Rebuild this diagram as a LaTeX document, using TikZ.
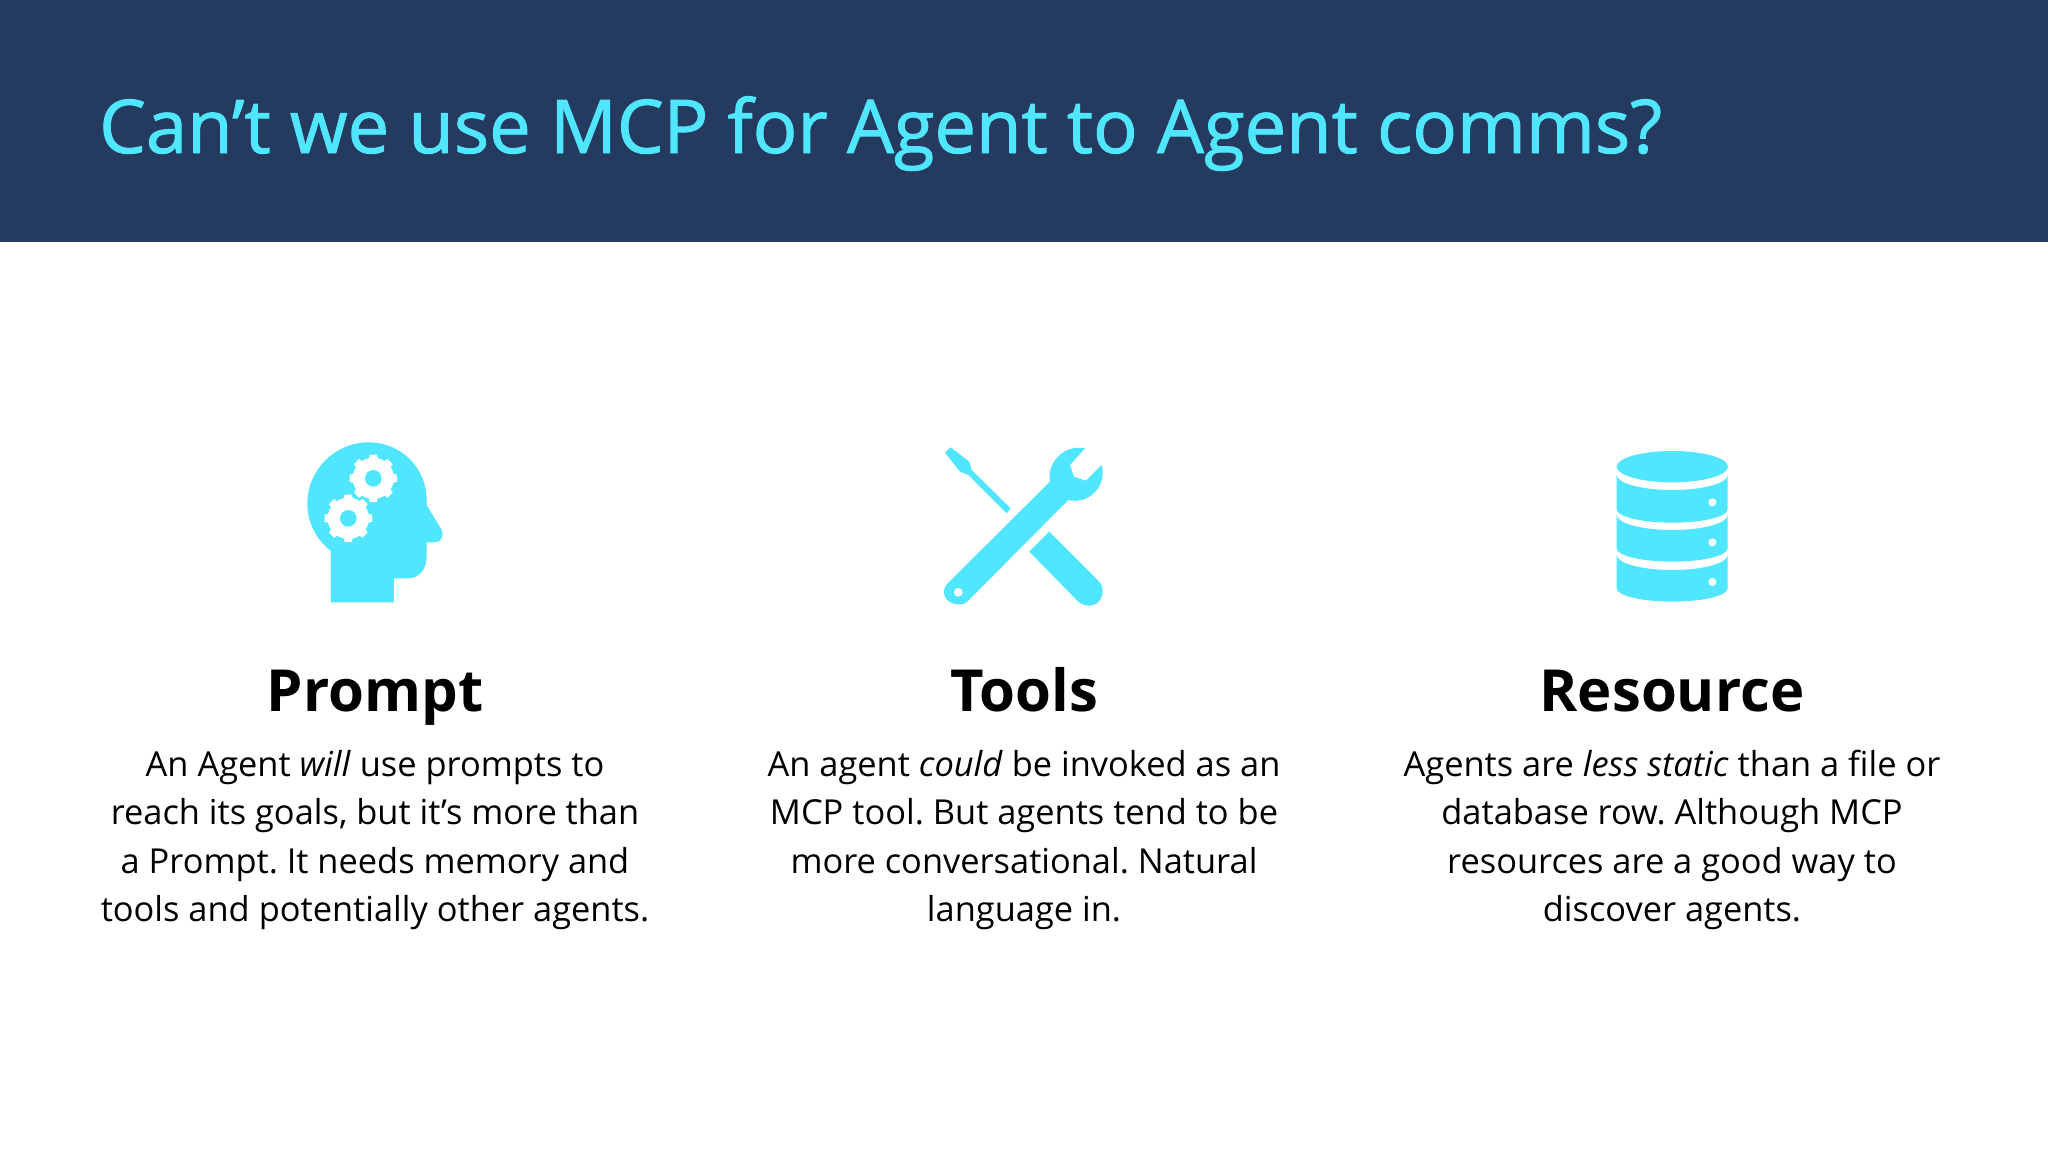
\documentclass[tikz,border=0pt]{standalone}
\usepackage{fontspec}
\setmainfont{Open Sans}
\newfontfamily\titlefont[FakeBold=1.3]{Open Sans}
\definecolor{navy}{HTML}{243A5E}
\definecolor{cyanms}{HTML}{50E6FF}
\tikzset{
  titletext/.style={anchor=base west,inner sep=0pt,text=cyanms,font=\titlefont\fontsize{74.1}{86}\selectfont},
  headtext/.style={anchor=base,inner sep=0pt,text=black,font=\fontsize{58}{66}\selectfont\bfseries},
  bodytext/.style={inner sep=0pt,text=black,align=center,font=\frenchspacing\fontsize{34.4}{48.3}\selectfont},
  iconfill/.style={fill=cyanms,draw=none},
  iconhole/.style={fill=white,draw=none}
}
\newcommand{\gearicon}[2]{%
  \fill[iconhole,shift={(#1,#2)}]
    \foreach \a in {0,45,...,315}{
      (\a-13:58) -- (\a-9:72) -- (\a+9:72) -- (\a+13:58) arc[start angle=\a+13,end angle=\a+32,radius=58] -- (\a+32:58)
    } -- cycle;
  \fill[iconhole,shift={(#1,#2)}] (0,0) circle[radius=62];
  \fill[iconfill,shift={(#1,#2)}] (0,0) circle[radius=25];
}
\newcommand{\dbseg}[2]{%
  \fill[iconfill] (110,#1) .. controls (110,#1+25) and (185,#1+45) .. (277,#1+45)
    .. controls (369,#1+45) and (443,#1+25) .. (443,#1) -- (443,#2)
    .. controls (443,#2+22) and (369,#2+40) .. (277,#2+40)
    .. controls (185,#2+40) and (110,#2+22) .. (110,#2) -- cycle;
}
\begin{document}
\begin{tikzpicture}[x=1pt,y=-1pt]
\useasboundingbox (0,0) rectangle (2048,1152);
\fill[white] (0,0) rectangle (2048,1152);
\fill[navy] (0,0) rectangle (2048,241.5);
\node[titletext] (title) at (99,153) {Can’t we use MCP for Agent to Agent comms?};

% Brain icon
\begin{scope}[shift={(280,420)},scale=0.3333]
  \fill[iconfill] (153,547) -- (153,393)
    .. controls (110,360) and (82,310) .. (82,250)
    .. controls (82,150) and (165,67) .. (265,67)
    .. controls (365,67) and (440,145) .. (440,240)
    -- (440,255) -- (484,328)
    .. controls (494,345) and (485,367) .. (465,367)
    -- (440,367) -- (440,410)
    .. controls (440,450) and (415,475) .. (385,475)
    -- (342,475) -- (342,547) -- cycle;
  \gearicon{280}{175}
  \gearicon{205}{295}
\end{scope}

% Tools icon
\begin{scope}[shift={(920,420)},scale=0.3333]
  \fill[iconfill] (92,82) -- (148,125) -- (155,150) -- (272,265) -- (260,280)
    -- (145,165) -- (120,155) -- (75,98) -- cycle;
  \fill[iconfill] (388,335) -- (538,485)
    .. controls (558,507) and (548,557) .. (508,557)
    .. controls (495,557) and (485,553) .. (475,545) -- (328,395) -- cycle;
  \fill[iconfill] (390,185)
    .. controls (380,130) and (430,72) .. (495,85)
    -- (450,135) -- (462,170) -- (498,182) -- (545,135)
    .. controls (562,200) and (505,255) .. (445,240)
    -- (140,547)
    .. controls (120,562) and (72,550) .. (72,518)
    .. controls (72,505) and (76,497) .. (83,490) -- cycle;
  \fill[iconhole] (115,517) circle[radius=13];
\end{scope}

% Database icon
\begin{scope}[shift={(1580,420)},scale=0.3333]
  \fill[iconfill] (277,140) ellipse[x radius=167,y radius=47];
  \dbseg{165}{268}
  \dbseg{285}{385}
  \dbseg{405}{505}
  \fill[iconhole] (397,247) circle[radius=12];
  \fill[iconhole] (397,367) circle[radius=12];
  \fill[iconhole] (397,486) circle[radius=12];
\end{scope}

\node[headtext] (h1) at (375,711) {Prompt};
\node[headtext] (h2) at (1024,711) {Tools};
\node[headtext] (h3) at (1672,711) {Resource};

\node[bodytext] (b1) at (375,840) {An Agent \textit{will} use prompts to\\reach its goals, but it’s more than\\a Prompt. It needs memory and\\tools and potentially other agents.};
\node[bodytext] (b2) at (1024,840) {An agent \textit{could} be invoked as an\\MCP tool. But agents tend to be\\more conversational. Natural\\language in.};
\node[bodytext] (b3) at (1672,840) {Agents are \textit{less static} than a file or\\database row. Although MCP\\resources are a good way to\\discover agents.};
\end{tikzpicture}
\end{document}
